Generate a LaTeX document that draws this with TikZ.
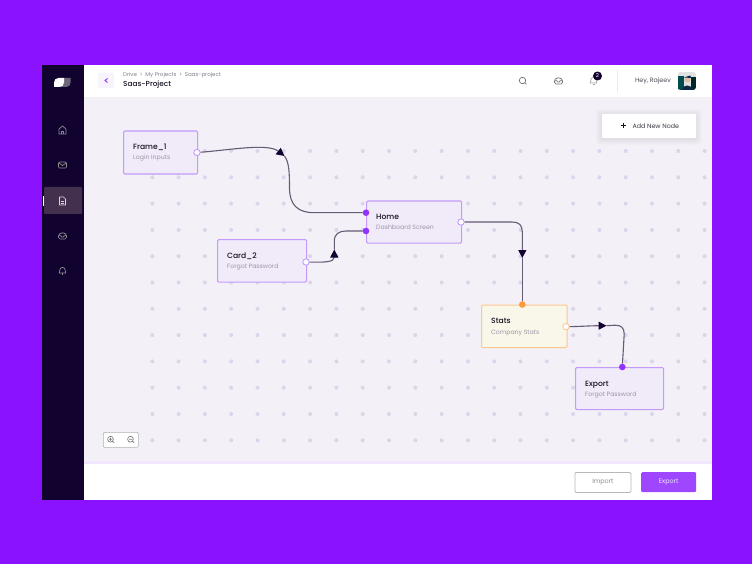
\documentclass[tikz,border=0pt]{standalone}
\usepackage{fontspec}
\setmainfont{Poppins}
\newfontfamily\poppinsmed{Poppins Medium}
\usetikzlibrary{arrows.meta, positioning}
\definecolor{backviolet}{HTML}{8A12FF}
\definecolor{sidedark}{HTML}{12022F}
\definecolor{sideactive}{HTML}{43304F}
\definecolor{canvasgrey}{HTML}{F3F0F7}
\definecolor{griddot}{HTML}{DCD4EA}
\definecolor{cardfill}{HTML}{F0EAF9}
\definecolor{cardline}{HTML}{C39BFA}
\definecolor{statfill}{HTML}{F9F6EA}
\definecolor{statline}{HTML}{FFC88E}
\definecolor{pinviolet}{HTML}{9333FF}
\definecolor{pinorange}{HTML}{FF9A3C}
\definecolor{wirecol}{HTML}{675C74}
\definecolor{subtext}{HTML}{9C95A6}
\definecolor{inktext}{HTML}{17101F}
\tikzset{
  card/.style={draw=cardline, fill=cardfill, line width=1.1pt, rounded corners=1.2pt, anchor=north west, inner sep=0pt},
  statcard/.style={card, draw=statline, fill=statfill},
  cardtitle/.style={inner sep=0pt, anchor=north west, text height=6pt, text depth=2pt, text=inktext, font=\poppinsmed\fontsize{7.6}{9}\selectfont},
  cardsub/.style={inner sep=0pt, anchor=north west, text height=5pt, text depth=1.5pt, text=subtext, font=\fontsize{6.2}{8}\selectfont},
  pinout/.style={circle, draw=cardline, fill=white, line width=0.9pt, minimum size=6.4pt, inner sep=0pt},
  pinin/.style={circle, fill=pinviolet, minimum size=6.6pt, inner sep=0pt},
  wire/.style={draw=wirecol, line width=1.1pt},
  wiretip/.style={wire, -{Triangle[length=8pt, width=8pt, color=sidedark]}},
  navicon/.style={draw=#1, line width=0.7pt, line join=round, fill=none},
  navicon/.default={black!45},
  barbutton/.style={rounded corners=1.2pt, anchor=north west, inner sep=0pt, font=\fontsize{6.4}{8}\selectfont},
  smalltext/.style={inner sep=0pt, font=\fontsize{5.5}{7}\selectfont, text=subtext!85!black}
}
\begin{document}
\begin{tikzpicture}[x=1pt, y=-1pt]
    \useasboundingbox (0,0) rectangle (752,564);
    \fill[backviolet] (0,0) rectangle (752,564);
    \fill[white] (84,65) rectangle (712,500);
    \fill[canvasgrey] (84,97) rectangle (712,463);
    \fill[black!6] (84,97) rectangle (712,98);
    \fill[cardline!25] (84,461) rectangle (712,464);
    \fill[sidedark] (41.7,65) rectangle (84,500);

    % dots behind everything
    \foreach \i in {0,...,21}
        \foreach \j in {0,...,11}
            \fill[griddot] ({152.3+\i*26.3},{151+\j*26.3}) circle (2pt);

    % sidebar
    \fill[black!45!sidedark!60!white] (64,78) -- (70.5,78) -- (70.5,82.5) .. controls (70.5,85) and (69,87) .. (66.5,87) -- (60,87) -- cycle;
    \fill[white] (54,87) -- (54,82.5) .. controls (54,80) and (56,78) .. (58.5,78) -- (64,78) -- (64,82.5) .. controls (64,85) and (62,87) .. (59.5,87) -- cycle;
    \fill[sideactive, rounded corners=1pt] (44,187) rectangle (82,214);
    \fill[white] (43,196) rectangle (44,206);
    \begin{scope}[shift={(62.5,130)}]
        \draw[navicon={black!45!white}] (-3.5,4) -- (-3.5,-1) -- (0,-4) -- (3.5,-1) -- (3.5,4) -- cycle;
        \draw[navicon={black!45!white}] (-1.2,4) -- (-1.2,1) -- (1.2,1) -- (1.2,4);
    \end{scope}
    \begin{scope}[shift={(62.5,165)}]
        \draw[navicon={black!45!white}, rounded corners=1pt] (-4,-3) rectangle (4,3);
        \draw[navicon={black!45!white}] (-3.5,-2) -- (0,0.5) -- (3.5,-2);
    \end{scope}
    \begin{scope}[shift={(62.5,201)}]
        \draw[navicon={white!85!black}, fill=sideactive] (-3,-4) -- (1,-4) -- (3,-2) -- (3,4) -- (-3,4) -- cycle;
        \draw[navicon={white!85!black}] (-1.3,0.5) -- (1.3,0.5) (-1.3,2.2) -- (1.3,2.2);
    \end{scope}
    \begin{scope}[shift={(62.5,236)}]
        \draw[navicon={black!45!white}, rounded corners=1.5pt] (-4,3) -- (-4,-1) -- (-2.5,-3) -- (2.5,-3) -- (4,-1) -- (4,3) -- cycle;
        \draw[navicon={black!45!white}] (-4,-0.3) -- (-1.6,-0.3) -- (-1,1) -- (1,1) -- (1.6,-0.3) -- (4,-0.3);
    \end{scope}
    \begin{scope}[shift={(62.5,271)}]
        \draw[navicon={black!45!white}] (-3.2,2) .. controls (-2.6,0) and (-3,-3.6) .. (0,-3.6) .. controls (3,-3.6) and (2.6,0) .. (3.2,2) -- cycle;
        \draw[navicon={black!45!white}] (0,2) -- (0,4);
    \end{scope}

    % header
    \node[fill=cardfill!50, rounded corners=1pt, minimum width=16pt, minimum height=15pt, inner sep=0pt] (backbtn) at (106,80.5) {};
    \draw[pinviolet, line width=0.9pt] (107.5,78.5) -- (105,80.5) -- (107.5,82.5);
    \node[smalltext, anchor=west] (crumb) at (123,75) {Drive\,\,\,\textgreater\,\,\,My Projects\,\,\,\textgreater\,\,\,Saas-project};
    \node[inner sep=0pt, anchor=west, text=inktext, font=\poppinsmed\fontsize{7.3}{9}\selectfont] (pagetitle) at (123,85) {Saas-Project};

    \draw[navicon={black!55}] (522.5,80.5) circle (3.2pt) (524.9,82.9) -- (526.4,84.4);
    \begin{scope}[shift={(558.5,81)}]
        \draw[navicon={black!55}, rounded corners=1.5pt] (-4,3) -- (-4,-1) -- (-2.5,-3) -- (2.5,-3) -- (4,-1) -- (4,3) -- cycle;
        \draw[navicon={black!55}] (-4,-0.3) -- (-1.6,-0.3) -- (-1,1) -- (1,1) -- (1.6,-0.3) -- (4,-0.3);
    \end{scope}
    \begin{scope}[shift={(593.5,81)}]
        \draw[navicon={black!35}] (-3.2,2) .. controls (-2.6,0) and (-3,-3.6) .. (0,-3.6) .. controls (3,-3.6) and (2.6,0) .. (3.2,2) -- cycle;
        \draw[navicon={black!35}] (-1,3.7) -- (1,3.7);
    \end{scope}
    \node[circle, fill=sidedark, text=white, minimum size=9pt, inner sep=0pt, font=\fontsize{5.4}{6}\selectfont] (badge) at (597.5,76) {2};
    \draw[black!8, line width=0.6pt] (617.5,70) -- (617.5,92);
    \node[inner sep=0pt, anchor=east, text=inktext!75, font=\fontsize{6.3}{8}\selectfont] (hello) at (671,81) {Hey, Rajeev};
    \begin{scope}
        \clip[rounded corners=3pt] (677.5,72) rectangle (696,90);
        \fill[black!12] (677.5,72) rectangle (696,90);
        \fill[teal!60!black] (677.5,76) rectangle (684,90);
        \fill[teal!30!black] (691,77) rectangle (696,90);
        \fill[sidedark!70!teal] (682,90) .. controls (682,84) and (692,84) .. (693,90) -- cycle;
        \fill[brown!50!white] (687.5,79.5) circle (3pt);
        \fill[sidedark!70!teal] (684,77.5) -- (690,75.5) -- (691.5,78) -- cycle;
    \end{scope}

    % add button
    \foreach \s in {1,...,6}
        \fill[sidedark, opacity=0.012, rounded corners=3pt] (602-\s,114+1-\s) rectangle (696+\s,138+1+\s);
    \fill[white, rounded corners=1pt] (602,114) rectangle (696,138);
    \draw[inktext, line width=0.7pt] (620.5,125.5) -- (626,125.5) (623.2,122.8) -- (623.2,128.2);
    \node[inner sep=0pt, anchor=west, text=inktext!85, font=\fontsize{6.3}{8}\selectfont] (addnode) at (632.5,125.7) {Add New Node};

    % cards
    \node[card, minimum width=74pt, minimum height=43pt] (frame) at (123,130.5) {};
    \node[cardtitle, below right=12.5pt and 10pt of frame.north west] (frametitle) {Frame\_1};
    \node[cardsub, below=3.3pt of frametitle.south west, anchor=north west] (framesub) {Login Inputs};

    \node[card, minimum width=89pt, minimum height=42.5pt] (cardtwo) at (217,239) {};
    \node[cardtitle, below right=13pt and 10pt of cardtwo.north west] (cardtitle) {Card\_2};
    \node[cardsub, below=3.3pt of cardtitle.south west, anchor=north west] (cardsub) {Forgot Password};

    \node[card, minimum width=95pt, minimum height=42pt] (home) at (366,200.5) {};
    \node[cardtitle, below right=12.3pt and 10pt of home.north west] (hometitle) {Home};
    \node[cardsub, below=3.3pt of hometitle.south west, anchor=north west] (homesub) {Dashboard Screen};

    \node[statcard, minimum width=85.5pt, minimum height=42.5pt] (stats) at (481,304.5) {};
    \node[cardtitle, below right=13pt and 10pt of stats.north west] (statstitle) {Stats};
    \node[cardsub, below=3.3pt of statstitle.south west, anchor=north west] (statssub) {Company Stats};

    \node[card, minimum width=88pt, minimum height=42pt] (export) at (575,367) {};
    \node[cardtitle, below right=13pt and 10pt of export.north west] (exporttitle) {Export};
    \node[cardsub, below=3.3pt of exporttitle.south west, anchor=north west] (exportsub) {Forgot Password};

    % pins
    \node[pinout] (frameout) at (197,152.5) {};
    \node[pinout] (cardout) at (306,262) {};
    \node[pinout] (homeout) at (461,222) {};
    \node[pinin] (homeinb) at (366,212.7) {};
    \node[pinin] (homeinc) at (366,231) {};
    \node[pinin, fill=pinorange] (statsin) at (522.3,304.5) {};
    \node[pinout, draw=statline] (statsout) at (566,326.7) {};
    \node[pinin] (exportin) at (622.3,367) {};

    % connectors, the tip sits half way
    \coordinate (framemid) at (284.5,156);
    \coordinate (cardmid) at (334.3,249.5);
    \coordinate (homemid) at (522.3,258);
    \coordinate (statsmid) at (606.5,325.7);
    \draw[wiretip] (frameout) .. controls (230,150) and (268,143) .. (framemid);
    \draw[wire] (framemid) .. controls (289,162) and (289.5,172) .. (289.5,188) .. controls (289.5,204) and (297,212.7) .. (314,212.7) -- (homeinb);
    \draw[wiretip] (cardout) .. controls (325,262.5) and (334.3,262) .. (cardmid);
    \draw[wire] (cardmid) -- (334.3,241) .. controls (334.3,234) and (339,231) .. (346,231) -- (homeinc);
    \draw[wiretip] (homeout) -- (512,222) .. controls (519,222) and (522.3,225) .. (522.3,232) -- (homemid);
    \draw[wire] (homemid) -- (statsin);
    \draw[wiretip] (statsout) .. controls (580,326.5) and (592,325.7) .. (statsmid);
    \draw[wire] (statsmid) -- (615,325.2) .. controls (621,325.2) and (624.2,327.5) .. (624.2,334) -- (exportin);

    % zoom box
    \node[barbutton, draw=black!30, fill=white, line width=0.7pt, minimum width=35pt, minimum height=15pt] (zoombox) at (103,432) {};
    \draw[navicon={black!50}] (110.5,439.2) circle (2.9pt) (112.7,441.4) -- (114.2,442.9) (109,439.2) -- (112,439.2) (110.5,437.7) -- (110.5,440.7);
    \draw[navicon={black!50}] (130.5,439.2) circle (2.9pt) (132.7,441.4) -- (134.2,442.9) (129,439.2) -- (132,439.2);

    % bottom buttons
    \node[barbutton, draw=black!28, fill=white, line width=0.8pt, minimum width=56pt, minimum height=20pt, text=black!45] (importbtn) at (574.5,472) {Import};
    \node[barbutton, fill=pinviolet!90!white, minimum width=55pt, minimum height=20pt, text=white!90!pinviolet] (exportbtn) at (641,472) {Export};
\end{tikzpicture}
\end{document}
